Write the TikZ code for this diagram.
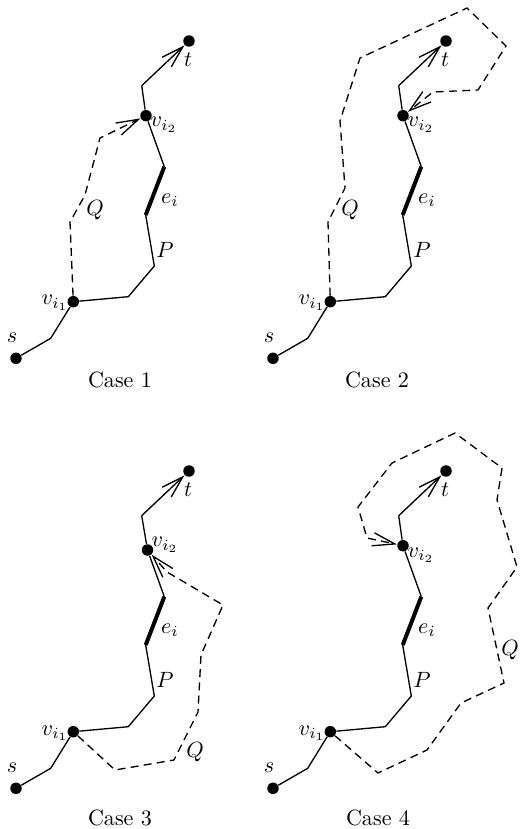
\documentclass[tikz,border=0pt]{standalone}
\usetikzlibrary{arrows.meta}
\tikzset{
  x=0.4525pt, y=-0.4525pt,
  dot/.style={circle, fill=black, inner sep=0pt, minimum size=5.2pt},
  lbl/.style={inner sep=0pt},
  pline/.style={line width=0.6pt},
  eline/.style={line width=1.8pt},
  qline/.style={line width=0.6pt, dash pattern=on 3.6pt off 2.4pt},
  tip/.style={-{Straight Barb[length=10pt,width=6pt]}},
}
\newcommand\drawcase[3]{%
  \node[dot] (#1t) at (189,41) {};
  \coordinate (#1c1) at (141.7,85.7);
  \node[dot] (#1v2) at (#2) {};
  \coordinate (#1e1) at (164.3,166.7);
  \coordinate (#1e2) at (145.7,215);
  \coordinate (#1c2) at (154.3,266);
  \coordinate (#1c3) at (128.3,296.7);
  \node[dot] (#1v1) at (73.3,301.7) {};
  \coordinate (#1c4) at (50.7,338.3);
  \node[dot] (#1s) at (16,358.3) {};
  \draw[pline] (#1s) -- (#1c4) -- (#1v1) -- (#1c3) -- (#1c2) -- (#1e2);
  \draw[eline] (#1e2) -- (#1e1);
  \draw[pline] (#1e1) -- (#1v2) -- (#1c1);
  \draw[pline,tip] (#1c1) -- (#1t);
  \node[lbl] (#1tl) at (188,60) {$t$};
  \node[lbl] (#1v2l) at (#3) {$v_{i_2}$};
  \node[lbl] (#1el) at (170,200) {$e_i$};
  \node[lbl] (#1pl) at (165,250) {$P$};
  \node[lbl] (#1v1l) at (55,303) {$v_{i_1}$};
  \node[lbl] (#1sl) at (12,338) {$s$};
}
\begin{document}
\begin{tikzpicture}
\useasboundingbox (0,0) rectangle (521,829);
% Case 1
\begin{scope}
  \drawcase{a}{146,115.7}{164,125}
\end{scope}
\draw[qline,tip] (av1) -- (70,222) -- (85,195) -- (100,138) -- (av2);
\node[lbl] (aq) at (95,210) {$Q$};
\node (acap) at (120,380) {Case 1};
% Case 2
\begin{scope}[shift={(257,0)}]
  \drawcase{b}{146,115.7}{164,125}
\end{scope}
\draw[qline,tip] (bv1) -- (328,222) -- (345,188) -- (340,121) -- (360,58) -- (467,8) -- (506,46) -- (478,90) -- (433,92) -- (bv2);
\node[lbl] (bq) at (350,210) {$Q$};
\node (bcap) at (377,380) {Case 2};
% Case 3
\begin{scope}[shift={(0,430)}]
  \drawcase{c}{147.5,120}{165,115}
\end{scope}
\draw[qline,tip] (cv1) -- (115,770) -- (174,760) -- (198,712) -- (201,655) -- (223,605) -- (167,572) -- (cv2);
\node[lbl] (cq) at (195,752) {$Q$};
\node (ccap) at (120,818) {Case 3};
% Case 4
\begin{scope}[shift={(257,430)}]
  \drawcase{d}{146,115.7}{164,125}
\end{scope}
\draw[qline,tip] (dv1) -- (378,773) -- (427,750) -- (461,703) -- (504,683) -- (488,608) -- (517,567) -- (497,500) -- (502,468) -- (455,433) -- (392,463) -- (358,507) -- (367,538) -- (dv2);
\node[lbl] (dq) at (510,650) {$Q$};
\node (dcap) at (378,818) {Case 4};
\end{tikzpicture}
\end{document}
